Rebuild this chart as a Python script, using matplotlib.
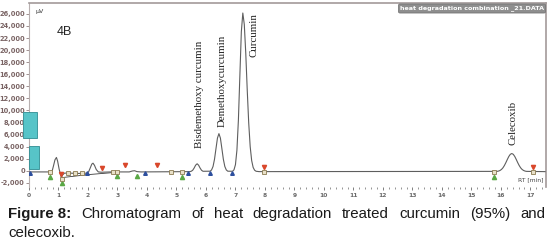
import matplotlib
matplotlib.use("Agg")
import matplotlib.pyplot as plt
from matplotlib import ticker
from matplotlib.patches import Rectangle

# chromatogram trace (RT in min, signal in uV)
rt = [0.00, 0.70, 0.78, 0.83, 0.88, 0.93, 0.97, 1.02, 1.07, 1.10, 1.14, 1.20,
      1.40, 1.60, 1.80, 1.95, 2.02, 2.08, 2.13, 2.17, 2.22, 2.28, 2.35, 2.45,
      2.80, 3.40, 3.50, 3.58, 3.66, 3.80, 5.45,
      5.50, 5.55, 5.60, 5.65, 5.70, 5.75, 5.80, 5.85, 5.90,
      6.14, 6.19, 6.24, 6.29, 6.34, 6.39, 6.44, 6.49, 6.54, 6.59, 6.64, 6.69, 6.74,
      6.90, 6.95, 7.00, 7.05, 7.10, 7.15, 7.20, 7.25, 7.30, 7.35, 7.40, 7.45,
      7.50, 7.55, 7.60, 7.65, 7.70, 7.80,
      15.87, 15.92, 15.97, 16.02, 16.07, 16.12, 16.17, 16.22, 16.27, 16.32, 16.37,
      16.42, 16.47, 16.52, 16.57, 16.62, 16.67, 16.72, 16.77, 16.82, 16.87, 17.50]
signal = [-200, -200, -150, 800, 1800, 2200, 1600, 300, -700, -1100, -700, -400,
          -400, -450, -450, -400, -200, 500, 1100, 1250, 900, 200, -200, -250,
          -200, -200, -50, 0, -150, -200, -150,
          -93, 75, 450, 920, 1150, 920, 450, 75, -93,
          -80, 127, 700, 1900, 3670, 5410, 6150, 5410, 3670, 1900, 700, 127, -80,
          -90, 140, 1000, 3410, 8390, 15800, 23050, 26150, 24250, 19450, 13350, 7900,
          3990, 1690, 550, 80, -90, -150,
          -110, -60, 40, 210, 480, 870, 1350, 1880, 2370, 2720, 2850,
          2720, 2370, 1880, 1350, 870, 480, 210, 40, -60, -110, -150]

# integration baseline drawn under the early peaks
base_rt = [1.10, 2.00, 3.00]
base_sig = [-1150, -650, -250]

# peak names and where their labels stand
peak_names = ["Bisdemethoxy curcumin", "Demethoxycurcumin", "Curcumin", "Celecoxib"]
label_rt = [5.77, 6.54, 7.62, 16.40]
label_y = [3700, 7200, 18800, 4200]

# peak start/end markers
blue_rt = [0.02, 1.95, 3.93, 5.39, 6.14, 6.88]
blue_y = [-450, -450, -400, -400, -400, -400]
green_rt = [0.71, 1.12, 2.98, 3.66, 5.19, 15.76]
green_y = [-1100, -2000, -900, -900, -1000, -1000]
red_rt = [1.10, 2.48, 3.25, 4.34, 7.97, 17.08]
red_y = [-600, 450, 900, 900, 600, 600]
square_rt = [0.71, 1.12, 1.32, 1.56, 1.80, 2.85, 3.00, 4.81, 5.19, 7.97, 15.76, 17.08]
square_y = [-200, -1300, -450, -450, -450, -250, -250, -200, -200, -200, -150, -150]

yticks = list(range(-2000, 26001, 2000))
xticks = list(range(0, 18))

caption_words = ["Chromatogram", "of", "heat", "degradation", "treated",
                 "curcumin", "(95%)", "and"]

fig = plt.figure(figsize=(5.51, 2.43), dpi=100)
ax = fig.add_axes([29 / 551, 1 - 187 / 243, 517 / 551, 184 / 243])

ax.plot(rt, signal, color="#5e5e5e", lw=0.8, zorder=3)
ax.plot(base_rt, base_sig, color="#3a3a3a", lw=0.6, zorder=2)

ax.plot(blue_rt, blue_y, ls="none", marker="^", ms=2.6, color="#2d4f9e", zorder=4)
ax.plot(green_rt, green_y, ls="none", marker="^", ms=3.0, color="#5aa845", zorder=4)
ax.plot(red_rt, red_y, ls="none", marker="v", ms=3.0, color="#d9472b", zorder=4)
ax.plot(square_rt, square_y, ls="none", marker="s", ms=3.0, mfc="#e8e0c8",
        mec="#8a7a50", mew=0.6, zorder=4)

for name, x, y in zip(peak_names, label_rt, label_y):
    ax.text(x, y, name, rotation=90, ha="center", va="bottom",
            family="Liberation Serif", fontsize=7.8, color="#222222")

ax.set_xlim(0, 17.53)
ax.set_ylim(-2700, 27810)

ax.set_yticks(yticks)
ax.yaxis.set_major_formatter(ticker.FuncFormatter(lambda v, p: f"{int(v):,}"))
ax.set_xticks(xticks)
ax.xaxis.set_minor_locator(ticker.MultipleLocator(0.2))
ax.tick_params(axis="y", labelsize=4.8, colors="#7a6464", length=2, width=0.5, pad=1)
ax.tick_params(axis="x", which="major", labelsize=4.3, colors="#6a6a6a",
               length=2.5, width=0.6, pad=2)
ax.tick_params(axis="x", which="minor", length=1.5, width=0.5, colors="#6a6a6a")
for t in ax.get_yticklabels() + ax.get_xticklabels():
    t.set_fontweight("bold")

for side in ["top", "right"]:
    ax.spines[side].set_color("#a39a9a")
    ax.spines[side].set_linewidth(1.2)
ax.spines["left"].set_color("#b8b0b0")
ax.spines["left"].set_linewidth(0.8)
ax.spines["bottom"].set_visible(False)

ax.text(0.95, 23000, "4B", fontsize=9, family="Liberation Sans", color="#222222",
        va="center")
ax.text(0.012, 0.97, "\u00b5V", transform=ax.transAxes, fontsize=4.5,
        va="top", color="#333333")
ax.text(0.995, 0.025, "RT [min]", transform=ax.transAxes, fontsize=4.3,
        ha="right", va="bottom", color="#444444")
fig.text(544 / 551, 1 - 8.5 / 243, "heat degradation combination _21.DATA",
         ha="right", va="center", fontsize=4.6, color="white", fontweight="bold",
         bbox=dict(boxstyle="round,pad=0.25", fc="#8e8e8e", ec="#6e6e6e", lw=0.5))

# teal side tabs on the left axis
for x0, y0, x1, y1 in [(23, 112, 37, 138), (29, 146, 39, 169)]:
    fig.patches.append(Rectangle((x0 / 551, 1 - y1 / 243), (x1 - x0) / 551,
                                 (y1 - y0) / 243, transform=fig.transFigure,
                                 fc="#57c4c8", ec="#2f8d92", lw=0.6, zorder=5))

# justified caption, first line spread between the margins
cap_y1 = 1 - 214 / 243
first = fig.text(8 / 551, cap_y1, "Figure 8:", fontsize=10.8, fontweight="bold",
                 family="Liberation Sans", va="center", color="#1a1a1a")
words = [first]
for w in caption_words:
    words.append(fig.text(0, cap_y1, w, fontsize=10.8, family="Liberation Sans",
                          va="center", color="#1a1a1a"))
fig.canvas.draw()
r = fig.canvas.get_renderer()
widths = [t.get_window_extent(r).width for t in words]
gap = (545 - 8 - sum(widths)) / (len(words) - 1)
x = 8
for t, wd in zip(words, widths):
    t.set_x(x / 551)
    x += wd + gap
fig.text(8 / 551, 1 - 233 / 243, "celecoxib.", fontsize=10.8, family="Liberation Sans",
         va="center", color="#1a1a1a")

fig.savefig("out.png", dpi=100)
